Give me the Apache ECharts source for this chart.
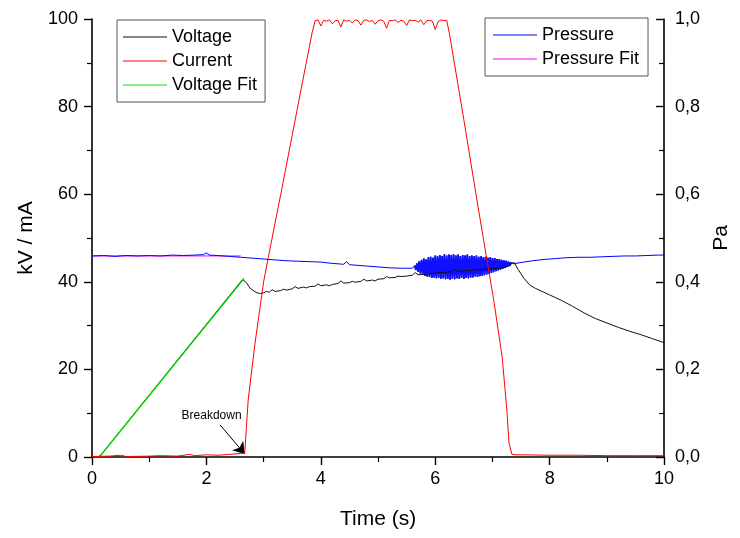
<!DOCTYPE html>
<html>
<head>
<meta charset="utf-8">
<title>Breakdown</title>
<script src="https://cdn.jsdelivr.net/npm/echarts@6/dist/echarts.min.js"></script>
<style>
  html, body { margin: 0; padding: 0; background: #fff; }
  #chart { width: 740px; height: 538px; }
</style>
</head>
<body>
<div id="chart"></div>
<script>
// ---- data ----

// voltage (kV), [time, value]
var voltage = [
  [0.10, 0], [0.15, 0.4], [2.63, 40.5], [2.66, 40.9], [2.70, 39.8], [2.76, 38.6],
  [2.85, 37.7], [2.93, 37.3], [3.0, 37.5], [3.05, 37.8], [3.1, 37.6], [3.15, 38.2], [3.2, 37.8],
  [3.3, 38.0], [3.35, 38.3], [3.4, 38.1], [3.5, 38.4], [3.55, 38.9], [3.6, 38.5], [3.7, 38.8],
  [3.75, 38.6], [3.8, 38.9], [3.9, 39.0], [3.95, 39.5], [4.0, 39.1], [4.1, 39.3], [4.15, 39.1],
  [4.2, 39.4], [4.3, 39.6], [4.35, 40.2], [4.4, 39.7], [4.5, 39.8], [4.55, 40.1], [4.6, 39.9],
  [4.7, 40.1], [4.75, 40.6], [4.8, 40.2], [4.9, 40.4], [4.95, 40.2], [5.0, 40.6], [5.1, 40.7],
  [5.15, 41.2], [5.2, 40.9], [5.3, 41.0], [5.35, 41.3], [5.4, 41.2], [5.5, 41.3], [5.6, 41.5],
  [5.65, 42.1], [5.7, 41.6], [5.8, 41.7], [5.85, 41.5], [5.9, 41.8], [6.0, 42.0], [6.1, 42.1],
  [6.2, 42.2], [6.3, 42.3], [6.35, 42.8], [6.4, 42.4], [6.5, 42.5], [6.6, 42.6], [6.7, 42.7],
  [6.8, 42.8], [6.9, 42.9], [7.0, 43.0], [7.1, 43.1], [7.2, 43.2], [7.28, 43.6],
  [7.33, 44.2], [7.38, 44.4], [7.45, 42.8], [7.55, 40.8], [7.65, 39.3], [7.75, 38.5],
  [7.9, 37.6], [8.0, 37.0], [8.2, 35.8], [8.4, 34.4], [8.6, 32.9], [8.8, 31.6],
  [9.0, 30.6], [9.2, 29.6], [9.4, 28.7], [9.6, 27.9], [9.8, 27.0], [10.0, 26.1]
];

var voltageFit = [[0.13, 0], [2.66, 40.8]];

// current (mA)
var currentRise = [
  [0, 0.1], [0.3, 0.2], [0.5, 0.4], [0.6, 0.1], [1.0, 0.2], [1.2, 0.3], [1.5, 0.2],
  [1.7, 0.6], [1.8, 0.3], [2.0, 0.5], [2.2, 0.4], [2.4, 0.6], [2.6, 0.8], [2.67, 0.9],
  [2.70, 7], [2.73, 13], [2.78, 18.5], [2.85, 26], [2.93, 33.5], [3.0, 40],
  [3.08, 45.5], [3.3, 60], [3.5, 73.5], [3.7, 87], [3.85, 97]
];
var plateauStart = 3.9, plateauStep = 0.05;
var currentPlateau = [
  99.6, 99.8, 98.4, 99.7, 99.5, 99.8, 98.9, 99.6, 99.7, 98.2, 99.8, 99.5,
  99.7, 99.1, 99.8, 99.6, 98.6, 99.7, 99.8, 99.4, 99.7, 98.8, 99.6, 99.8,
  99.5, 97.9, 99.7, 99.6, 99.8, 99.2, 99.7, 99.5, 98.5, 99.8, 99.6, 99.7,
  99.3, 99.8, 98.7, 99.6, 99.7, 99.5, 97.6, 99.4, 99.8, 99.6, 99.7
];
var currentFall = [
  [6.25, 96.5], [6.5, 77], [6.75, 57], [7.03, 35.2], [7.17, 22.8], [7.25, 11],
  [7.29, 3.2], [7.34, 0.6], [7.4, 0.5], [7.5, 0.5], [8.0, 0.4], [8.5, 0.4],
  [9.0, 0.3], [9.5, 0.3], [10.0, 0.3]
];

// pressure (Pa)
var pressureBefore = [
  [0, 0.459], [0.2, 0.460], [0.4, 0.458], [0.6, 0.460], [0.8, 0.459], [1.0, 0.460],
  [1.2, 0.459], [1.4, 0.461], [1.6, 0.460], [1.8, 0.461], [1.95, 0.462], [2.0, 0.466],
  [2.05, 0.461], [2.2, 0.460], [2.4, 0.458], [2.6, 0.456], [2.8, 0.454], [3.0, 0.452],
  [3.2, 0.450], [3.4, 0.448], [3.6, 0.447], [3.8, 0.446], [4.0, 0.445], [4.2, 0.442],
  [4.4, 0.440], [4.45, 0.446], [4.5, 0.439], [4.8, 0.436], [5.0, 0.434], [5.2, 0.432],
  [5.4, 0.431], [5.6, 0.431]
];
var bandStart = 5.64, bandStep = 0.02;
var pressureBand = [
  0.437, 0.427, 0.442, 0.423, 0.447, 0.419, 0.450, 0.416, 0.453, 0.414,
  0.451, 0.412, 0.456, 0.411, 0.457, 0.409, 0.455, 0.410, 0.460, 0.408,
  0.458, 0.409, 0.461, 0.407, 0.459, 0.408, 0.463, 0.406, 0.460, 0.407,
  0.462, 0.405, 0.461, 0.407, 0.463, 0.406, 0.460, 0.408, 0.462, 0.407,
  0.459, 0.409, 0.461, 0.407, 0.460, 0.409, 0.462, 0.408, 0.459, 0.410,
  0.460, 0.410, 0.458, 0.412, 0.460, 0.411, 0.457, 0.413, 0.458, 0.414,
  0.456, 0.415, 0.457, 0.417, 0.455, 0.418, 0.456, 0.420, 0.454, 0.422,
  0.454, 0.424, 0.452, 0.426, 0.452, 0.428, 0.450, 0.430, 0.449, 0.432,
  0.448, 0.434, 0.446, 0.436, 0.444, 0.440
];
var pressureAfter = [
  [7.36, 0.441], [7.5, 0.444], [7.7, 0.448], [7.9, 0.451], [8.1, 0.453], [8.3, 0.455],
  [8.5, 0.456], [8.7, 0.456], [8.9, 0.457], [9.1, 0.458], [9.3, 0.459], [9.5, 0.459],
  [9.7, 0.460], [9.9, 0.461], [10.0, 0.461]
];
var pressureFit = [[0, 0.459], [2.6, 0.459]];

var breakdownLabel = [2.09, 9.4];
var breakdownArrow = [[2.24, 7.3], [2.67, 0.7]];

function seq(t0, dt, vals) {
  return vals.map(function (v, i) { return [+(t0 + i * dt).toFixed(3), v]; });
}

var current = currentRise.concat(seq(plateauStart, plateauStep, currentPlateau), currentFall);
var band = seq(bandStart, bandStep, pressureBand);
var pressure = pressureBefore.concat(band, pressureAfter);

var FONT = 'Liberation Sans, Arial, sans-serif';
var axisBase = {
  axisLine: { show: true, onZero: false, lineStyle: { color: '#000', width: 1.6 } },
  axisTick: { show: true, length: 8, lineStyle: { color: '#000', width: 1.4 } },
  minorTick: { show: true, splitNumber: 2, length: 5, lineStyle: { color: '#000', width: 1.2 } },
  splitLine: { show: false },
  nameTextStyle: { color: '#000', fontFamily: FONT, fontSize: 21 }
};
var legendBase = {
  orient: 'vertical', icon: 'rect',
  itemWidth: 44, itemHeight: 1.2, itemGap: 6,
  borderColor: '#555', borderWidth: 1,
  textStyle: { fontFamily: FONT, fontSize: 18, color: '#000', lineHeight: 18 }
};

var chart = echarts.init(document.getElementById('chart'));
chart.setOption({
  animation: false,
  backgroundColor: '#fff',
  grid: { left: 92, right: 68, top: 19, bottom: 81 },
  legend: [Object.assign({}, legendBase, {
    left: 117, top: 20, padding: [8, 8, 8, 6],
    data: ['Voltage', 'Current', 'Voltage Fit']
  }), Object.assign({}, legendBase, {
    left: 485, top: 18, padding: [8, 9, 8, 8],
    data: ['Pressure', 'Pressure Fit']
  })],
  xAxis: Object.assign({}, axisBase, {
    type: 'value', min: 0, max: 10, interval: 2,
    name: 'Time (s)', nameLocation: 'middle', nameGap: 52,
    axisLabel: { color: '#000', fontFamily: FONT, fontSize: 18, margin: 13 }
  }),
  yAxis: [Object.assign({}, axisBase, {
    type: 'value', min: 0, max: 100, interval: 20, position: 'left',
    name: 'kV / mA', nameLocation: 'middle', nameGap: 50,
    axisLabel: { color: '#000', fontFamily: FONT, fontSize: 18, margin: 14 }
  }), Object.assign({}, axisBase, {
    type: 'value', min: 0, max: 1, interval: 0.2, position: 'right',
    name: 'Pa', nameLocation: 'middle', nameGap: 40,
    axisTick: { show: true, inside: true, length: 8, lineStyle: { color: '#000', width: 1.4 } },
    axisLabel: {
      color: '#000', fontFamily: FONT, fontSize: 18, margin: 11,
      formatter: function (v) { return v.toFixed(1).replace('.', ','); }
    }
  })],
  series: [{
    name: 'Pressure Fit', type: 'line', yAxisIndex: 1, data: pressureFit,
    symbol: 'none', z: 1, lineStyle: { color: '#ff00ff', width: 1 }, itemStyle: { color: '#ff00ff' }
  }, {
    name: 'Pressure', type: 'line', yAxisIndex: 1, data: pressure,
    symbol: 'none', z: 2, lineStyle: { color: '#0000ff', width: 1 }, itemStyle: { color: '#0000ff' }
  }, {
    // the fast oscillation drawn again, a little heavier, so it reads as a solid band
    name: 'Pressure', type: 'line', yAxisIndex: 1, data: band,
    symbol: 'none', z: 2, lineStyle: { color: '#1010ff', width: 1.8 }, itemStyle: { color: '#0000ff' }
  }, {
    name: 'Voltage', type: 'line', data: voltage,
    symbol: 'none', z: 3, lineStyle: { color: '#111', width: 1 }, itemStyle: { color: '#111' }
  }, {
    name: 'Voltage Fit', type: 'line', data: voltageFit,
    symbol: 'none', z: 4, lineStyle: { color: '#00e000', width: 1.3 }, itemStyle: { color: '#00e000' }
  }, {
    name: 'Current', type: 'line', data: current,
    symbol: 'none', z: 5, lineStyle: { color: '#ff0000', width: 1 }, itemStyle: { color: '#ff0000' },
    markLine: {
      silent: true, animation: false,
      symbol: ['none', 'arrow'], symbolSize: 11,
      itemStyle: { color: '#000' },
      lineStyle: { color: '#000', width: 1, type: 'solid' },
      label: { show: false },
      data: [[{ coord: breakdownArrow[0] }, { coord: breakdownArrow[1] }]]
    },
    markPoint: {
      silent: true, symbol: 'circle', symbolSize: 1,
      itemStyle: { color: 'rgba(0,0,0,0)' },
      label: { show: true, position: 'inside', formatter: 'Breakdown', color: '#000', fontFamily: FONT, fontSize: 12 },
      data: [{ coord: breakdownLabel }]
    }
  }]
});
</script>
</body>
</html>
